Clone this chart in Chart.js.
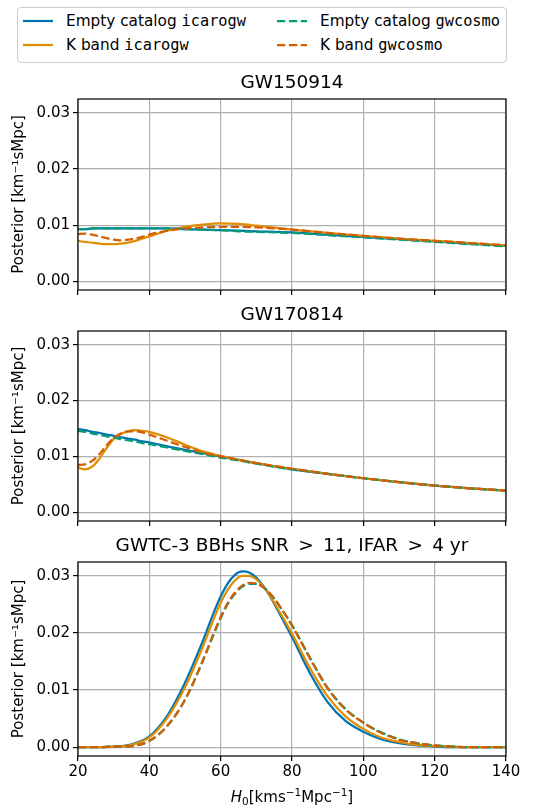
<!DOCTYPE html>
<html>
<head>
<meta charset="utf-8">
<script src="https://cdn.jsdelivr.net/npm/chart.js@4.4.0/dist/chart.umd.min.js"></script>
<style>
  html, body { margin: 0; padding: 0; background: #fff; }
  #figure { position: relative; width: 545px; height: 809px; overflow: hidden; font-family: "DejaVu Sans", sans-serif; color: #000; }
  .panel { position: absolute; left: 0; }
  #legend { position: absolute; left: 17px; top: 7px; width: 488px; height: 54px; border: 1px solid #cccccc; border-radius: 4px; }
  .item { position: absolute; height: 18px; line-height: 18px; font-size: 15.3px; white-space: nowrap; }
  .item svg { position: absolute; left: 0; top: 7px; }
  .item .lbl { position: absolute; left: 43px; top: 0; }
  .mono { font-family: "DejaVu Sans Mono", monospace; }
</style>
</head>
<body>
<div id="figure">
  <div id="legend"></div>
  <canvas id="gw150914" class="panel" width="545" height="232" style="top:70px"></canvas>
  <canvas id="gw170814" class="panel" width="545" height="231" style="top:302px"></canvas>
  <canvas id="gwtc3" class="panel" width="545" height="276" style="top:533px"></canvas>
</div>
<script>
// H0 grid for the two single-event panels (denser where the K band curves wiggle)
const hEvent = [20, 22, 24, 26, 28, 30, 32, 34, 36, 38, 40, 45, 50, 55, 60, 65, 70, 80, 90, 100, 110, 120, 130, 140];
// H0 grid for the BBH population panel (denser around the peak)
const hPop = [20, 25, 30, 35, 40, 45, 50, 55, 58, 60, 62, 64, 66, 68, 70, 72, 74, 76, 80, 85, 90, 95, 100, 105, 110, 115, 120, 125, 130, 140];

// GW150914
const gw150914EmptyIcarogw = [0.0093, 0.0093, 0.0094, 0.0094, 0.0094, 0.0094, 0.0094, 0.0094, 0.0094, 0.0094, 0.0094, 0.0094, 0.0093, 0.0092, 0.0091, 0.0090, 0.0089, 0.0087, 0.0083, 0.0079, 0.0075, 0.0071, 0.0067, 0.0063];
const gw150914KIcarogw = [0.0072, 0.0070, 0.0069, 0.0067, 0.0066, 0.0066, 0.0067, 0.0069, 0.0072, 0.0076, 0.0080, 0.0090, 0.0097, 0.0101, 0.0103, 0.0102, 0.0099, 0.0092, 0.0086, 0.0081, 0.0076, 0.0072, 0.0068, 0.0064];
const gw150914EmptyGwcosmo = [0.0093, 0.0093, 0.0094, 0.0094, 0.0094, 0.0094, 0.0094, 0.0094, 0.0094, 0.0094, 0.0094, 0.0094, 0.0093, 0.0092, 0.0091, 0.0089, 0.0088, 0.0086, 0.0082, 0.0078, 0.0074, 0.0070, 0.0066, 0.0062];
const gw150914KGwcosmo = [0.0084, 0.0085, 0.0083, 0.0080, 0.0077, 0.0074, 0.0073, 0.0074, 0.0076, 0.0079, 0.0083, 0.0090, 0.0094, 0.0096, 0.0097, 0.0097, 0.0096, 0.0092, 0.0086, 0.0081, 0.0076, 0.0072, 0.0068, 0.0064];

// GW170814
const gw170814EmptyIcarogw = [0.0149, 0.0147, 0.0144, 0.0142, 0.0139, 0.0137, 0.0134, 0.0132, 0.0130, 0.0127, 0.0125, 0.0118, 0.0112, 0.0106, 0.0100, 0.0094, 0.0088, 0.0077, 0.0069, 0.0061, 0.0054, 0.0048, 0.0043, 0.0039];
const gw170814KIcarogw = [0.0080, 0.0077, 0.0082, 0.0096, 0.0115, 0.0131, 0.0140, 0.0145, 0.0147, 0.0146, 0.0144, 0.0134, 0.0121, 0.0109, 0.0101, 0.0094, 0.0088, 0.0078, 0.0069, 0.0061, 0.0054, 0.0048, 0.0043, 0.0039];
const gw170814EmptyGwcosmo = [0.0146, 0.0144, 0.0141, 0.0139, 0.0136, 0.0134, 0.0131, 0.0129, 0.0127, 0.0124, 0.0122, 0.0116, 0.0110, 0.0104, 0.0098, 0.0093, 0.0087, 0.0077, 0.0069, 0.0061, 0.0054, 0.0048, 0.0043, 0.0039];
const gw170814KGwcosmo = [0.0085, 0.0086, 0.0092, 0.0104, 0.0120, 0.0133, 0.0141, 0.0145, 0.0145, 0.0143, 0.0139, 0.0128, 0.0117, 0.0107, 0.0100, 0.0094, 0.0088, 0.0078, 0.0069, 0.0061, 0.0054, 0.0048, 0.0043, 0.0039];

// GWTC-3 BBHs, SNR > 11, IFAR > 4 yr
const bbhEmptyIcarogw = [0, 0, 0.0001, 0.0005, 0.0019, 0.0055, 0.0113, 0.0186, 0.0235, 0.0264, 0.0287, 0.0302, 0.0308, 0.0306, 0.0297, 0.0282, 0.0263, 0.0240, 0.0193, 0.0130, 0.0079, 0.0046, 0.0027, 0.0014, 0.0007, 0.0003, 0.0001, 0, 0, 0];
const bbhKIcarogw = [0, 0, 0.0001, 0.0004, 0.0017, 0.0051, 0.0105, 0.0176, 0.0224, 0.0253, 0.0276, 0.0292, 0.0300, 0.0300, 0.0294, 0.0281, 0.0264, 0.0243, 0.0199, 0.0139, 0.0089, 0.0054, 0.0032, 0.0017, 0.0009, 0.0004, 0.0002, 0.0001, 0, 0];
const bbhEmptyGwcosmo = [0, 0, 0.0001, 0.0002, 0.0011, 0.0037, 0.0083, 0.0151, 0.0197, 0.0226, 0.0251, 0.0269, 0.0281, 0.0286, 0.0286, 0.0280, 0.0268, 0.0252, 0.0214, 0.0157, 0.0104, 0.0067, 0.0043, 0.0026, 0.0014, 0.0007, 0.0003, 0.0001, 0, 0];
const bbhKGwcosmo = [0, 0, 0.0001, 0.0002, 0.0011, 0.0037, 0.0083, 0.0152, 0.0199, 0.0228, 0.0253, 0.0271, 0.0283, 0.0288, 0.0287, 0.0280, 0.0268, 0.0252, 0.0213, 0.0156, 0.0103, 0.0066, 0.0043, 0.0025, 0.0013, 0.0007, 0.0003, 0.0001, 0, 0];

const yTicks = [0, 0.01, 0.02, 0.03];
const xTicks = [20, 40, 60, 80, 100, 120, 140];

const legendItems = [
  { name: "Empty catalog ", code: "icarogw", color: "#0173b2", dashed: false },
  { name: "K band ", code: "icarogw", color: "#de8f05", dashed: false },
  { name: "Empty catalog ", code: "gwcosmo", color: "#029e73", dashed: true },
  { name: "K band ", code: "gwcosmo", color: "#d55e00", dashed: true },
];

const FONT = "'DejaVu Sans', sans-serif";
const DASH = [8.3, 3.6];
const LINE_W = 2.25;

Chart.defaults.font.family = FONT;
Chart.defaults.font.size = 15;
Chart.defaults.color = "#000";

// legend in two columns, same order as matplotlib's column-major fill
const legend = document.getElementById("legend");
legendItems.forEach((item, i) => {
  const col = Math.floor(i / 2);
  const row = i % 2;
  const div = document.createElement("div");
  div.className = "item";
  div.style.left = (col === 0 ? 5 : 259) + "px";
  div.style.top = (row === 0 ? 4 : 28) + "px";
  const dash = item.dashed ? `stroke-dasharray="${DASH.join(" ")}"` : "";
  div.innerHTML = `
    <svg width="30" height="4"><line x1="0" y1="2" x2="30" y2="2" stroke="${item.color}" stroke-width="${LINE_W}" ${dash}/></svg>
    <span class="lbl">${item.name}<span class="mono">${item.code}</span></span>
  `;
  legend.appendChild(div);
});

// black frame around the axes, drawn over the curves like matplotlib spines
const framePlugin = {
  id: "frame",
  afterDatasetsDraw(chart) {
    const { ctx, chartArea: a } = chart;
    ctx.save();
    ctx.strokeStyle = "#000";
    ctx.lineWidth = 1.2;
    ctx.strokeRect(a.left, a.top, a.right - a.left, a.bottom - a.top);
    ctx.restore();
  },
};

// H0 axis label with italic H, subscript and superscripts
const xLabelPlugin = {
  id: "xLabel",
  afterDraw(chart) {
    const { ctx, chartArea: a } = chart;
    const big = `15px ${FONT}`;
    const small = `10.5px ${FONT}`;
    const parts = [
      { t: "H", f: `italic ${big}`, dy: 0 },
      { t: "0", f: small, dy: 3 },
      { t: "[kms", f: big, dy: 0 },
      { t: "\u22121", f: small, dy: -6 },
      { t: "Mpc", f: big, dy: 0 },
      { t: "\u22121", f: small, dy: -6 },
      { t: "]", f: big, dy: 0 },
    ];
    ctx.save();
    ctx.fillStyle = "#000";
    ctx.textBaseline = "alphabetic";
    let total = 0;
    parts.forEach((p) => {
      ctx.font = p.f;
      p.w = ctx.measureText(p.t).width;
      total += p.w;
    });
    let x = (a.left + a.right) / 2 - total / 2;
    const y = chart.height - 7;
    parts.forEach((p) => {
      ctx.font = p.f;
      ctx.fillText(p.t, x, y + p.dy);
      x += p.w;
    });
    ctx.restore();
  },
};

function line(xs, ys, color, dashed) {
  return {
    data: xs.map((x, i) => ({ x, y: ys[i] })),
    borderColor: color,
    borderWidth: LINE_W,
    borderDash: dashed ? DASH : [],
    pointRadius: 0,
    cubicInterpolationMode: "monotone",
    fill: false,
  };
}

function makePanel(id, title, xs, emptyIco, kIco, emptyGwc, kGwc, showX) {
  // index 0 is drawn last, so the gwcosmo dashes sit on top
  const datasets = [
    line(xs, kGwc, legendItems[3].color, true),
    line(xs, emptyGwc, legendItems[2].color, true),
    line(xs, kIco, legendItems[1].color, false),
    line(xs, emptyIco, legendItems[0].color, false),
  ];
  new Chart(document.getElementById(id), {
    type: "line",
    data: { datasets },
    plugins: showX ? [framePlugin, xLabelPlugin] : [framePlugin],
    options: {
      responsive: false,
      animation: false,
      devicePixelRatio: 1,
      events: [],
      layout: { padding: { left: 0, right: 39, top: 0, bottom: 0 } },
      plugins: {
        legend: { display: false },
        tooltip: { enabled: false },
        title: {
          display: true,
          fullSize: false,
          text: title,
          color: "#000",
          font: { size: 18.5, weight: "normal" },
          padding: { top: 1.8, bottom: 5 },
        },
      },
      scales: {
        x: {
          type: "linear",
          min: 20,
          max: 140,
          afterFit: (s) => { s.height = showX ? 53 : 10; },
          afterBuildTicks: (s) => { s.ticks = xTicks.map((v) => ({ value: v })); },
          ticks: { display: showX, padding: 2, color: "#000", font: { size: 15 } },
          grid: { color: "#b0b0b0", lineWidth: 1.2, tickLength: 5, tickColor: "#000", tickWidth: 1.2 },
          border: { display: false },
        },
        y: {
          min: -0.00155,
          max: 0.03245,
          afterFit: (s) => { s.width = 78; },
          afterBuildTicks: (s) => { s.ticks = yTicks.map((v) => ({ value: v })); },
          ticks: { padding: 3, color: "#000", font: { size: 15 }, callback: (v) => v.toFixed(2) },
          grid: { color: "#b0b0b0", lineWidth: 1.2, tickLength: 5, tickColor: "#000", tickWidth: 1.2 },
          border: { display: false },
          title: {
            display: true,
            text: "Posterior [km\u207B\u00B9sMpc]",
            color: "#000",
            font: { size: 15 },
            padding: { top: 10, bottom: 0 },
          },
        },
      },
    },
  });
}

makePanel("gw150914", "GW150914", hEvent, gw150914EmptyIcarogw, gw150914KIcarogw, gw150914EmptyGwcosmo, gw150914KGwcosmo, false);
makePanel("gw170814", "GW170814", hEvent, gw170814EmptyIcarogw, gw170814KIcarogw, gw170814EmptyGwcosmo, gw170814KGwcosmo, false);
makePanel("gwtc3", "GWTC-3 BBHs SNR\u2002>\u200211, IFAR\u2002>\u20024 yr", hPop, bbhEmptyIcarogw, bbhKIcarogw, bbhEmptyGwcosmo, bbhKGwcosmo, true);
</script>
</body>
</html>
